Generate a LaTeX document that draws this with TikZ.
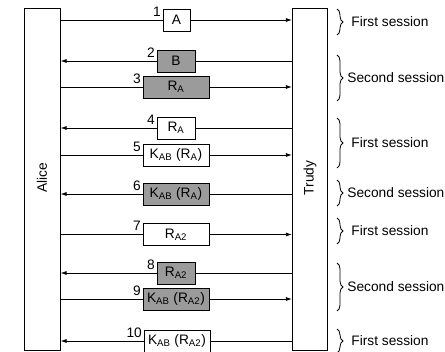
\documentclass[tikz,border=0pt]{standalone}
\usepackage{fontspec}
\setmainfont{Liberation Sans}
\usetikzlibrary{arrows.meta,decorations.pathreplacing}
\definecolor{boxgray}{RGB}{155,155,155}

\begin{document}
\begin{tikzpicture}[x=0.75pt, y=-0.75pt, line width=0.6pt, font=\fontsize{10.3}{12}\selectfont,
    party/.style={draw, minimum width=26.5pt, minimum height=256.5pt},
    msg/.style={draw, fill=white, inner sep=1pt, minimum height=16.5pt},
    grey/.style={msg, fill=boxgray},
    short/.style={minimum width=28.5pt},
    wide/.style={minimum width=49.5pt},
    num/.style={label={[anchor=north east, inner sep=1pt, yshift=2.5pt]north west:#1}},
    tip/.style={-{Latex[length=4.5pt, width=3pt]}},
    sbrace/.style={decorate, decoration={brace, amplitude=4.5pt}},
    session/.style={anchor=west, inner sep=0pt}]
    \useasboundingbox (0,0) rectangle (445,352);
    % the two parties
    \node[party] (alice) at (42.5,179) {};
    \node[rotate=90] (alicename) at (42,178) {Alice};
    \node[party] (trudy) at (310,179) {};
    \node[rotate=90] (trudyname) at (310,178) {Trudy};
    % messages
    \node[msg, minimum width=20.25pt, num=1] (m1) at (176.5,20) {A};
    \node[grey, short, num=2] (m2) at (176,61) {B};
    \node[grey, wide, num=3] (m3) at (176,87) {R\textsubscript{A}};
    \node[msg, short, num=4] (m4) at (176,128) {R\textsubscript{A}};
    \node[msg, wide, num=5] (m5) at (176,155) {K\textsubscript{AB} (R\textsubscript{A})};
    \node[grey, wide, num=6] (m6) at (176,194) {K\textsubscript{AB} (R\textsubscript{A})};
    \node[msg, wide, num=7] (m7) at (176,234.5) {R\textsubscript{A2}};
    \node[grey, short, num=8] (m8) at (176,273) {R\textsubscript{A2}};
    \node[grey, wide, num=9] (m9) at (176,299) {K\textsubscript{AB} (R\textsubscript{A2})};
    \node[msg, wide, num=10] (m10) at (177,341) {K\textsubscript{AB} (R\textsubscript{A2})};
    % Alice to Trudy
    \draw[tip] (alice.east |- m1) -- (m1.west) (m1.east) -- (trudy.west |- m1);
    \draw[tip] (alice.east |- m3) -- (m3.west) (m3.east) -- (trudy.west |- m3);
    \draw[tip] (alice.east |- m5) -- (m5.west) (m5.east) -- (trudy.west |- m5);
    \draw[tip] (alice.east |- m7) -- (m7.west) (m7.east) -- (trudy.west |- m7);
    \draw[tip] (alice.east |- m9) -- (m9.west) (m9.east) -- (trudy.west |- m9);
    % Trudy to Alice
    \draw[tip] (trudy.west |- m2) -- (m2.east) (m2.west) -- (alice.east |- m2);
    \draw[tip] (trudy.west |- m4) -- (m4.east) (m4.west) -- (alice.east |- m4);
    \draw[tip] (trudy.west |- m6) -- (m6.east) (m6.west) -- (alice.east |- m6);
    \draw[tip] (trudy.west |- m8) -- (m8.east) (m8.west) -- (alice.east |- m8);
    \draw[tip] (trudy.west |- m10) -- (m10.east) (m10.west) -- (alice.east |- m10);
    % sessions
    \draw[sbrace] (337,9) -- (337,35);
    \node[session] (s1) at (351,22) {First session};
    \draw[sbrace] (337,55) -- (337,101);
    \node[session] (s2) at (347,78) {Second session};
    \draw[sbrace] (337,118) -- (337,168);
    \node[session] (s3) at (351,143) {First session};
    \draw[sbrace] (337,180) -- (337,206);
    \node[session] (s4) at (347,193) {Second session};
    \draw[sbrace] (337,218) -- (337,244);
    \node[session] (s5) at (351,231) {First session};
    \draw[sbrace] (337,263) -- (337,311);
    \node[session] (s6) at (347,287) {Second session};
    \draw[sbrace] (337,329) -- (337,353);
    \node[session] (s7) at (351,341) {First session};
\end{tikzpicture}
\end{document}
